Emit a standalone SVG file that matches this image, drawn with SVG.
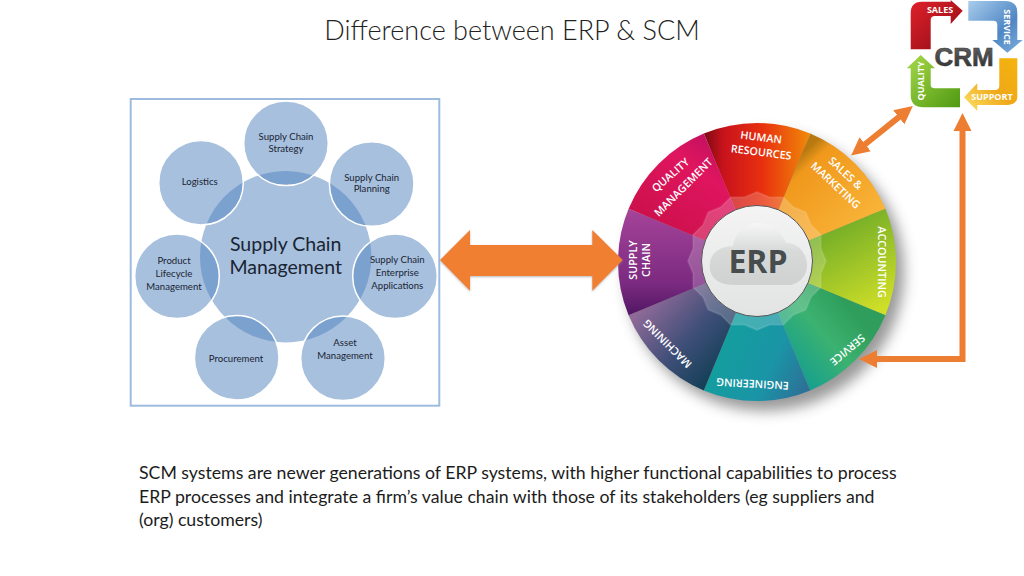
<svg xmlns="http://www.w3.org/2000/svg" width="1024" height="576" viewBox="0 0 1024 576">
<style>
.t{font-family:Lato,"Open Sans","Liberation Sans",sans-serif;fill:#1c1c1c}
.title{font-size:27px;font-weight:300;text-anchor:middle;fill:#222}
.body{font-size:17.7px}
.p{stroke:#fff;stroke-width:1.5;fill:#4f81bd;fill-opacity:.5}
.s{font-family:Lato,"Open Sans","Liberation Sans",sans-serif;font-size:9.6px;fill:#1a2433;text-anchor:middle}
.w{font-family:"Open Sans","Liberation Sans",sans-serif;font-size:10.8px;font-weight:600;fill:#fff;text-anchor:middle}
.c{font-family:"Open Sans","Liberation Sans",sans-serif;font-size:9px;font-weight:700;fill:#fff;text-anchor:middle}
.or{stroke:#ed7d31;stroke-width:6;fill:none}
</style>
<defs>
<filter id="blur" x="-20%" y="-20%" width="140%" height="140%"><feGaussianBlur stdDeviation="7"/></filter>
<filter id="sh" x="-5%" y="-20%" width="110%" height="140%"><feDropShadow dx="0" dy="1" stdDeviation="1" flood-color="#888" flood-opacity=".6"/></filter>
<marker id="h" markerUnits="userSpaceOnUse" markerWidth="20" markerHeight="20" refX="0.5" refY="10" orient="auto-start-reverse"><path d="M0 1L18 10L0 19Z" fill="#ed7d31"/></marker>
<linearGradient id="hr" gradientUnits="userSpaceOnUse" x1="704" y1="180" x2="810" y2="180"><stop offset="0" stop-color="#7d0a14"/><stop offset=".18" stop-color="#c8121c"/><stop offset=".55" stop-color="#e8300f"/><stop offset="1" stop-color="#f08a08"/></linearGradient>
<linearGradient id="sa" gradientUnits="userSpaceOnUse" x1="795" y1="160" x2="860" y2="230"><stop offset="0" stop-color="#b87a10"/><stop offset=".14" stop-color="#f0981c"/><stop offset="1" stop-color="#f8b438"/></linearGradient>
<linearGradient id="ac" gradientUnits="userSpaceOnUse" x1="830" y1="215" x2="880" y2="310"><stop offset="0" stop-color="#6aa828"/><stop offset="1" stop-color="#cfdf28"/></linearGradient>
<linearGradient id="se" gradientUnits="userSpaceOnUse" x1="790" y1="380" x2="860" y2="320"><stop offset="0" stop-color="#0f9c94"/><stop offset=".6" stop-color="#3cb270"/><stop offset="1" stop-color="#2f9e5c"/></linearGradient>
<linearGradient id="en" gradientUnits="userSpaceOnUse" x1="710" y1="340" x2="810" y2="390"><stop offset="0" stop-color="#12a09c"/><stop offset=".6" stop-color="#1a94a6"/><stop offset="1" stop-color="#2f6d96"/></linearGradient>
<linearGradient id="ma" gradientUnits="userSpaceOnUse" x1="640" y1="310" x2="720" y2="385"><stop offset="0" stop-color="#8f6a98"/><stop offset=".5" stop-color="#3f4f78"/><stop offset="1" stop-color="#0b3c50"/></linearGradient>
<linearGradient id="su" gradientUnits="userSpaceOnUse" x1="650" y1="205" x2="650" y2="318"><stop offset="0" stop-color="#a8459a"/><stop offset=".7" stop-color="#7a2a80"/><stop offset="1" stop-color="#4d1560"/></linearGradient>
<linearGradient id="qm" gradientUnits="userSpaceOnUse" x1="650" y1="240" x2="720" y2="140"><stop offset="0" stop-color="#c81048"/><stop offset=".7" stop-color="#e0155f"/><stop offset="1" stop-color="#c01060"/></linearGradient>
<linearGradient id="disc" x1="0" y1="0" x2="0" y2="1"><stop offset="0" stop-color="#f4f4f4"/><stop offset="1" stop-color="#e2e3e3"/></linearGradient>
<linearGradient id="cloud" x1="0" y1="0" x2="0" y2="1"><stop offset="0" stop-color="#f6f6f6"/><stop offset=".45" stop-color="#d8dada"/><stop offset="1" stop-color="#cfd1d1"/></linearGradient>
<linearGradient id="cr" x1="0" y1="0" x2="1" y2="1"><stop offset="0" stop-color="#e0202a"/><stop offset="1" stop-color="#8e0d16"/></linearGradient>
<linearGradient id="cb" x1="0" y1="0" x2="1" y2="1"><stop offset="0" stop-color="#a9cdec"/><stop offset=".6" stop-color="#4f87c4"/><stop offset="1" stop-color="#7fb0de"/></linearGradient>
<linearGradient id="cy" x1="1" y1="0" x2="0" y2="1"><stop offset="0" stop-color="#f4b40c"/><stop offset=".5" stop-color="#f0a818"/><stop offset="1" stop-color="#fbe36a"/></linearGradient>
<linearGradient id="cg" x1="0" y1="0" x2="1" y2="1"><stop offset="0" stop-color="#a8d84a"/><stop offset="1" stop-color="#4f9a12"/></linearGradient>
<linearGradient id="ct" x1="0" y1="0" x2="0" y2="1"><stop offset="0" stop-color="#6a6a6a"/><stop offset="1" stop-color="#2c2c2c"/></linearGradient>
</defs>
<rect width="1024" height="576" fill="#fff"/>
<text class="t title" x="512" y="40">Difference between ERP &amp; SCM</text>

<g id="scm">
<rect x="130.7" y="99" width="308.6" height="306.7" fill="#fff" stroke="#9dbbdf" stroke-width="2"/>
<circle id="scm-core" cx="285.7" cy="256.7" r="85.7" fill="#4f81bd" fill-opacity=".5"/>
<g id="strategy"><circle class="p" cx="286" cy="143.3" r="42.3"/><text class="s" x="286" y="140">Supply Chain</text><text class="s" x="286" y="151.6">Strategy</text></g>
<g id="planning"><circle class="p" cx="371.7" cy="184" r="42.3"/><text class="s" x="371.7" y="180.6">Supply Chain</text><text class="s" x="371.7" y="192.3">Planning</text></g>
<g id="enterprise"><circle class="p" cx="395" cy="276.3" r="42.3"/><text class="s" x="397.3" y="262.6">Supply Chain</text><text class="s" x="397.3" y="275.6">Enterprise</text><text class="s" x="397.3" y="288.6">Applications</text></g>
<g id="asset"><circle class="p" cx="343" cy="358.3" r="42.3"/><text class="s" x="345" y="346">Asset</text><text class="s" x="345" y="359">Management</text></g>
<g id="procurement"><circle class="p" cx="236.7" cy="357.7" r="42.3"/><text class="s" x="236" y="361.6">Procurement</text></g>
<g id="product"><circle class="p" cx="177" cy="276.3" r="42.3"/><text class="s" x="174" y="263.6">Product</text><text class="s" x="174" y="276.6">Lifecycle</text><text class="s" x="174" y="289.6">Management</text></g>
<g id="logistics"><circle class="p" cx="201" cy="182.7" r="42.3"/><text class="s" x="199.7" y="185">Logistics</text></g>
<g id="scm-label"><text class="s" style="font-size:19.5px" x="285.7" y="250.7">Supply Chain</text><text class="s" style="font-size:19.5px" x="285.7" y="274">Management</text></g>
</g>

<g id="erp">
<circle cx="765" cy="272" r="139" fill="#555" opacity=".6" filter="url(#blur)"/>
<g id="s-hr"><path d="M757 262L703.8 133.6A139 139 0 0 1 810.2 133.6Z" fill="url(#hr)"/><text class="w" transform="translate(760.7 141) rotate(7)">HUMAN</text><text class="w" transform="translate(760.7 156) rotate(7)">RESOURCES</text></g>
<g id="s-sales"><path d="M757 262L810.2 133.6A139 139 0 0 1 885.4 208.8Z" fill="url(#sa)"/><text class="w" transform="translate(843 176) rotate(43)">SALES &amp;</text><text class="w" transform="translate(833 188) rotate(43)">MARKETING</text></g>
<g id="s-acc"><path d="M757 262L885.4 208.8A139 139 0 0 1 885.4 315.2Z" fill="url(#ac)"/><text class="w" transform="translate(878 262) rotate(90)">ACCOUNTING</text></g>
<g id="s-service"><path d="M757 262L885.4 315.2A139 139 0 0 1 810.2 390.4Z" fill="url(#se)"/><text class="w" transform="translate(845 347) rotate(140)">SERVICE</text></g>
<g id="s-eng"><path d="M757 262L810.2 390.4A139 139 0 0 1 703.8 390.4Z" fill="url(#en)"/><text class="w" transform="translate(752.7 380) rotate(183)">ENGINEERING</text></g>
<g id="s-mach"><path d="M757 262L703.8 390.4A139 139 0 0 1 628.6 315.2Z" fill="url(#ma)"/><text class="w" transform="translate(670 341) rotate(225)">MACHINING</text></g>
<g id="s-sc"><path d="M757 262L628.6 315.2A139 139 0 0 1 628.6 208.8Z" fill="url(#su)"/><text class="w" transform="translate(636.5 260) rotate(-90)">SUPPLY</text><text class="w" transform="translate(650 260) rotate(-90)">CHAIN</text></g>
<g id="s-qm"><path d="M757 262L628.6 208.8A139 139 0 0 1 703.8 133.6Z" fill="url(#qm)"/><text class="w" transform="translate(673 178) rotate(-41)">QUALITY</text><text class="w" transform="translate(686 190) rotate(-45)">MANAGEMENT</text></g>
<g id="hub">
<polygon transform="translate(757 261)" fill="#fff" fill-opacity=".2" stroke="#fff" stroke-opacity=".1" stroke-width="2" stroke-linejoin="round" points="69,0 63.8,12.7 63.8,26.4 54,36.1 48.8,48.8 36.1,54 26.4,63.8 12.7,63.8 0,69 -12.7,63.8 -26.4,63.8 -36.1,54 -48.8,48.8 -54,36.1 -63.8,26.4 -63.8,12.7 -69,0 -63.8,-12.7 -63.8,-26.4 -54,-36.1 -48.8,-48.8 -36.1,-54 -26.4,-63.8 -12.7,-63.8 0,-69 12.7,-63.8 26.4,-63.8 36.1,-54 48.8,-48.8 54,-36.1 63.8,-26.4 63.8,-12.7"/>
<circle cx="757" cy="261" r="55.5" fill="url(#disc)" stroke="#555" stroke-width="1"/>
<path d="M733 285C716 285 708 275 710 263C711 253 720 246 733 246C735 232 746 223 758 223C772 223 782 232 786 243C798 242 807 254 807 265C807 277 798 285 788 285Z" fill="url(#cloud)"/>
<text x="758" y="273" font-family="'Open Sans','Liberation Sans',sans-serif" font-size="32" font-weight="700" fill="#474c4d" text-anchor="middle">ERP</text>
</g>
</g>

<g id="crm">
<g id="crm-sales"><path d="M910.7 49.3V13.3Q910.7 1.7 921.7 1.7H950.7V0L962.7 10.7L950.7 24V16H935Q930.7 16 930.7 20V49.3Z" fill="url(#cr)"/><text class="c" x="940" y="13">SALES</text></g>
<g id="crm-service"><path d="M968.3 1H1005Q1017.3 1 1017.3 12.7V40H1022.7L1007.3 52.7L992.3 40H997.3V25Q997.3 20.7 993.3 20.7H968.3Z" fill="url(#cb)"/><text class="c" transform="translate(1004.3 27) rotate(90)">SERVICE</text></g>
<g id="crm-support"><path d="M999.3 58.3H1017.3V96.7Q1017.3 105 1005 105H977.3V111L964 97.3L977.3 83.3V90H995Q999.3 90 999.3 86Z" fill="url(#cy)"/><text class="c" x="992" y="100.2">SUPPORT</text></g>
<g id="crm-quality"><path d="M920.7 55L935 68.3H930.7V85Q930.7 88.3 935 88.3H960V107.3H923.3Q910.7 107.3 910.7 95V68.3H906.7Z" fill="url(#cg)"/><text class="c" transform="translate(923.8 81) rotate(-90)">QUALITY</text></g>
<text id="crm-label" x="964" y="65.5" font-family="'Liberation Sans',sans-serif" font-size="26" font-weight="700" fill="url(#ct)" stroke="#3a3a3a" stroke-width=".6" text-anchor="middle">CRM</text>
</g>

<g id="connectors">
<path filter="url(#sh)" d="M440 260L470 230V245H592.3V230L622.7 260L592.3 290.7V276H470V290.7Z" fill="#f07f30"/>
<line class="or" x1="864.8" y1="144.5" x2="899.2" y2="116.9" marker-start="url(#h)" marker-end="url(#h)"/>
<path class="or" d="M962.5 130.5V359H876.5" marker-start="url(#h)" marker-end="url(#h)"/>
</g>

<g id="caption">
<text class="t body" x="139" y="479">SCM systems are newer generations of ERP systems, with higher functional capabilities to process</text>
<text class="t body" x="139" y="502.5">ERP processes and integrate a firm’s value chain with those of its stakeholders (eg suppliers and</text>
<text class="t body" x="139" y="525.5">(org) customers)</text>
</g>
</svg>
